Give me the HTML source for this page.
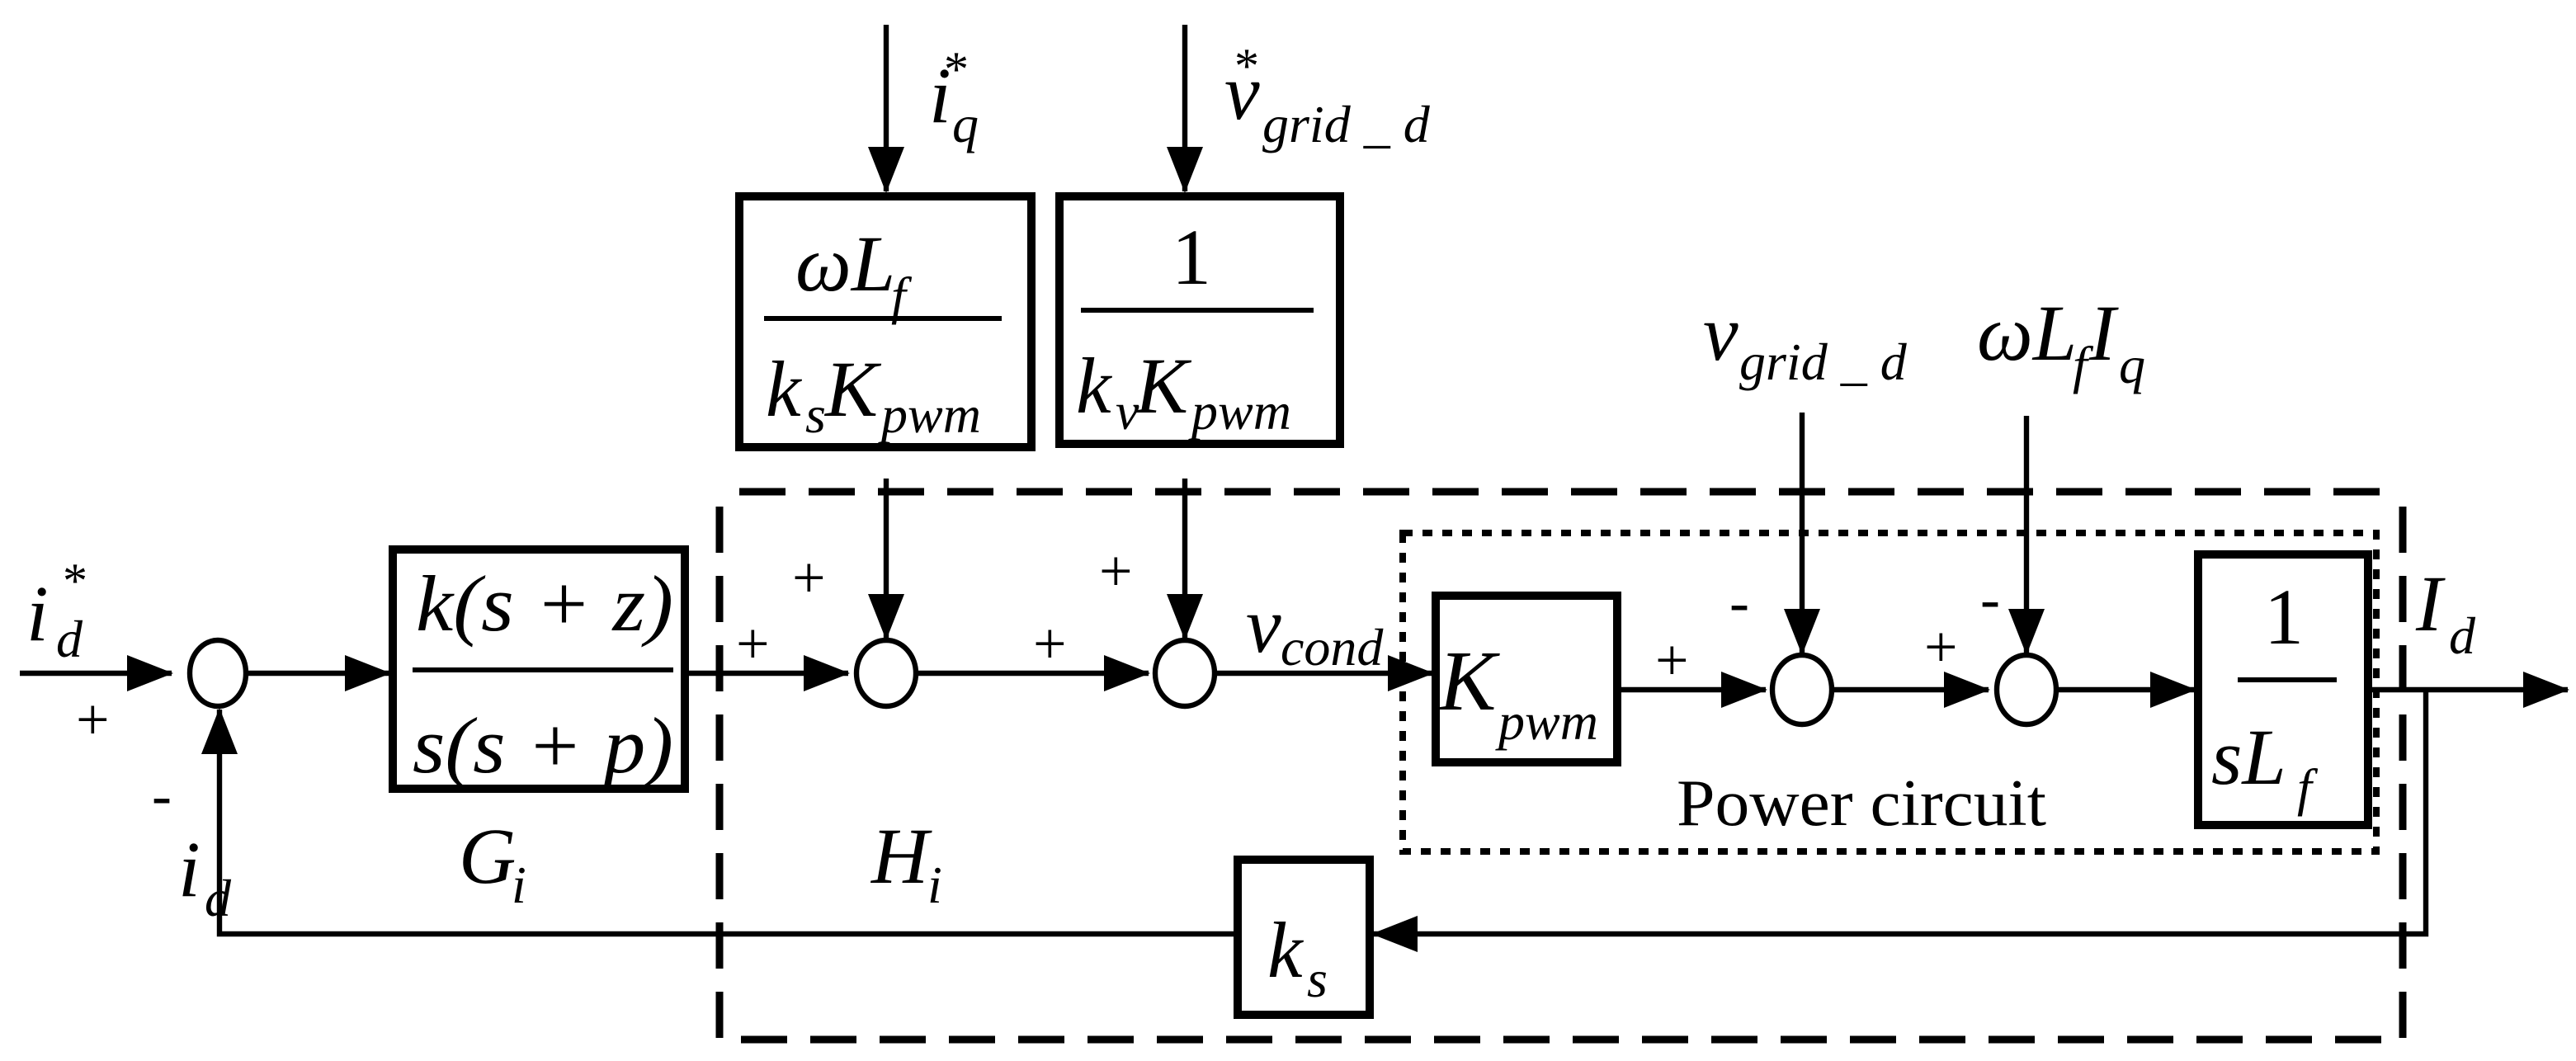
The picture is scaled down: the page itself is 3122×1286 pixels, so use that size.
<!DOCTYPE html>
<html><head><meta charset="utf-8"><style>html,body{margin:0;padding:0;background:#fff}svg{display:block}</style></head><body>
<svg width="3122" height="1286" viewBox="0 0 1561 643" xmlns="http://www.w3.org/2000/svg" font-family="'Liberation Serif', serif" font-style="italic">
<defs><marker id="a" markerWidth="28" markerHeight="22" refX="27" refY="11" orient="auto" markerUnits="userSpaceOnUse"><path d="M0,0 L28,11 L0,22 Z" fill="#000"/></marker></defs>
<g stroke="#000" stroke-width="3.2" fill="none">
<line x1="12" y1="408" x2="104" y2="408" marker-end="url(#a)"/>
<ellipse cx="132" cy="408" rx="17" ry="20"/>
<line x1="150" y1="408" x2="236" y2="408" marker-end="url(#a)"/>
<line x1="417" y1="408" x2="514" y2="408" marker-end="url(#a)"/>
<ellipse cx="537" cy="408" rx="18" ry="20"/>
<line x1="556" y1="408" x2="696" y2="408" marker-end="url(#a)"/>
<ellipse cx="718" cy="408" rx="18" ry="20"/>
<line x1="737" y1="408" x2="868" y2="408" marker-end="url(#a)"/>
<line x1="537" y1="15" x2="537" y2="116" marker-end="url(#a)"/>
<line x1="718" y1="15" x2="718" y2="116" marker-end="url(#a)"/>
<line x1="537" y1="290" x2="537" y2="387" marker-end="url(#a)"/>
<line x1="718" y1="290" x2="718" y2="387" marker-end="url(#a)"/>
<line x1="980" y1="418" x2="1070" y2="418" marker-end="url(#a)"/>
<ellipse cx="1092" cy="418" rx="18" ry="21"/>
<line x1="1110" y1="418" x2="1205" y2="418" marker-end="url(#a)"/>
<ellipse cx="1228" cy="418" rx="18" ry="21"/>
<line x1="1247" y1="418" x2="1330" y2="418" marker-end="url(#a)"/>
<line x1="1092" y1="250" x2="1092" y2="396" marker-end="url(#a)"/>
<line x1="1228" y1="252" x2="1228" y2="396" marker-end="url(#a)"/>
<line x1="1436" y1="418" x2="1556" y2="418" marker-end="url(#a)"/>
<polyline points="1470,418 1470,566 832,566" marker-end="url(#a)"/>
<polyline points="750,566 133,566 133,430" marker-end="url(#a)"/>
</g>
<g stroke="#000" stroke-width="5" fill="#fff">
<rect x="238" y="333" width="177" height="145"/>
<rect x="448" y="119" width="177" height="152"/>
<rect x="642" y="119" width="170" height="150"/>
<rect x="870" y="361" width="110" height="101"/>
<rect x="1332" y="336" width="103" height="164"/>
<rect x="750" y="521" width="80" height="94"/>
</g>
<g stroke="#000" stroke-width="4.5" fill="none" stroke-dasharray="28,14">
<polyline points="436,307 436,630 1456,630 1456,305"/>
<line x1="448" y1="298" x2="1452" y2="298"/>
</g>
<rect x="850" y="323" width="590" height="193" stroke="#000" stroke-width="4" fill="none" stroke-dasharray="6,6"/>
<g stroke="#000" stroke-width="3">
<line x1="250" y1="406" x2="408" y2="406"/>
<line x1="463" y1="193" x2="607" y2="193"/>
<line x1="655" y1="188" x2="796" y2="188"/>
<line x1="1356" y1="412" x2="1416" y2="412"/>
</g>
<g fill="#000" font-size="48">
<text x="16" y="388">i</text><text x="34" y="398" font-size="32">d</text><text x="38" y="362" font-size="30" font-style="normal">*</text>
<text x="46" y="448" font-size="36" font-style="normal">+</text>
<text x="92" y="494" font-size="36" font-style="normal">-</text>
<text x="108" y="543">i</text><text x="124" y="555" font-size="32">d</text>
<text x="252" y="382" textLength="156" lengthAdjust="spacingAndGlyphs">k(s + z)</text>
<text x="250" y="468" textLength="158" lengthAdjust="spacingAndGlyphs">s(s + p)</text>
<text x="278" y="535">G</text><text x="310" y="547" font-size="32">i</text>
<text x="528" y="535">H</text><text x="562" y="547" font-size="32">i</text>
<text x="446" y="402" font-size="36" font-style="normal">+</text>
<text x="480" y="362" font-size="36" font-style="normal">+</text>
<text x="626" y="402" font-size="36" font-style="normal">+</text>
<text x="666" y="358" font-size="36" font-style="normal">+</text>
<text x="755" y="395">v</text><text x="776" y="403" font-size="32">cond</text>
<text x="563" y="74">i</text><text x="577" y="86" font-size="32">q</text><text x="572" y="52" font-size="30" font-style="normal">*</text>
<text x="742" y="72">v</text><text x="765" y="86" font-size="32">grid _ d</text><text x="748" y="50" font-size="30" font-style="normal">*</text>
<text x="482" y="176">ωL</text><text x="540" y="190" font-size="32">f</text>
<text x="464" y="252">k</text><text x="488" y="262" font-size="32">s</text><text x="500" y="252">K</text><text x="534" y="262" font-size="32">pwm</text>
<text x="710" y="172" font-style="normal">1</text>
<text x="652" y="250">k</text><text x="676" y="260" font-size="32">v</text><text x="688" y="250">K</text><text x="722" y="260" font-size="32">pwm</text>
<text x="872" y="430" font-size="52">K</text><text x="908" y="448" font-size="32">pwm</text>
<text x="1003" y="412" font-size="36" font-style="normal">+</text>
<text x="1048" y="377" font-size="36" font-style="normal">-</text>
<text x="1166" y="404" font-size="36" font-style="normal">+</text>
<text x="1200" y="375" font-size="36" font-style="normal">-</text>
<text x="1032" y="218">v</text><text x="1054" y="230" font-size="32">grid _ d</text>
<text x="1198" y="218">ωL</text><text x="1256" y="232" font-size="32">f</text><text x="1266" y="218">I</text><text x="1284" y="232" font-size="32">q</text>
<text x="1016" y="500" font-size="40" font-style="normal" textLength="224" lengthAdjust="spacingAndGlyphs">Power circuit</text>
<text x="1372" y="390" font-style="normal">1</text>
<text x="1340" y="475">sL</text><text x="1392" y="488" font-size="32">f</text>
<text x="1464" y="382">I</text><text x="1484" y="396" font-size="32">d</text>
<text x="768" y="592">k</text><text x="792" y="604" font-size="32">s</text>
</g>
</svg>
</body></html>
